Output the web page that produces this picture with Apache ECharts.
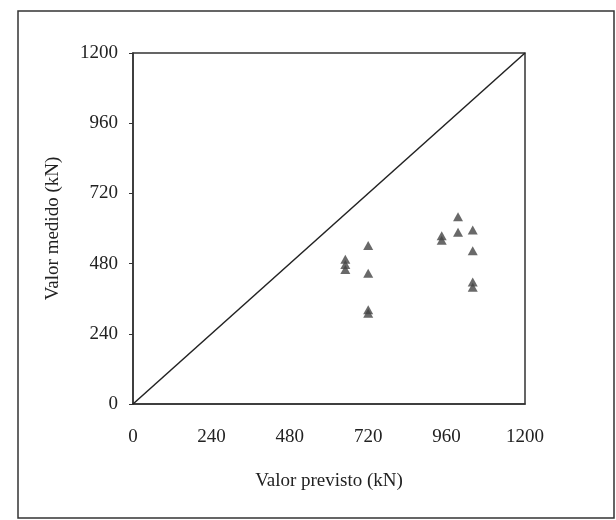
<!DOCTYPE html>
<html>
<head>
<meta charset="utf-8">
<script src="https://cdn.jsdelivr.net/npm/echarts@6/dist/echarts.min.js"></script>
<style>
  html, body { margin: 0; padding: 0; background: #fff; }
  #chart { width: 616px; height: 520px; }
</style>
</head>
<body>
<div id="chart"></div>
<script>
  // valores (kN)
  var previsto = [650, 650, 650, 720, 720, 720, 720, 945, 945, 995, 995, 1040, 1040, 1040, 1040];
  var medido   = [495, 477, 460, 542, 447, 322, 310, 575, 560, 640, 587, 595, 524, 417, 399];
  var linhaX = [0, 1200];
  var linhaY = [0, 1200];
  var ticks = [0, 240, 480, 720, 960, 1200];

  var pontos = previsto.map(function (x, i) { return [x, medido[i]]; });
  var linha = linhaX.map(function (x, i) { return [x, linhaY[i]]; });

  var font = 'Liberation Serif';
  var semVirgula = function (v) { return String(v); };
  var chart = echarts.init(document.getElementById('chart'));

  chart.setOption({
    animation: false,
    backgroundColor: '#fff',
    graphic: [{
      type: 'rect',
      shape: { x: 18, y: 11, width: 596, height: 507 },
      style: { fill: 'none', stroke: '#333', lineWidth: 1.5 },
      silent: true
    }],
    grid: {
      left: 133, right: 91, top: 53, bottom: 116,
      show: true, borderColor: '#333', borderWidth: 1.5
    },
    xAxis: {
      type: 'value',
      min: ticks[0], max: ticks[ticks.length - 1], interval: 240,
      name: 'Valor previsto (kN)',
      nameLocation: 'middle',
      nameGap: 68,
      nameTextStyle: { fontFamily: font, fontSize: 19, color: '#222' },
      axisLine: { show: true, lineStyle: { color: '#333', width: 1.5 } },
      axisTick: { show: false },
      splitLine: { show: false },
      axisLabel: { margin: 24, fontFamily: font, fontSize: 19, color: '#222', formatter: semVirgula }
    },
    yAxis: {
      type: 'value',
      min: ticks[0], max: ticks[ticks.length - 1], interval: 240,
      name: 'Valor medido (kN)',
      nameLocation: 'middle',
      nameGap: 70,
      nameTextStyle: { fontFamily: font, fontSize: 19, color: '#222' },
      axisLine: { show: true, lineStyle: { color: '#333', width: 1.5 } },
      axisTick: { show: true, length: 4, lineStyle: { color: '#333' } },
      splitLine: { show: false },
      axisLabel: { margin: 15, fontFamily: font, fontSize: 19, color: '#222', formatter: semVirgula }
    },
    series: [{
      type: 'line',
      data: linha,
      symbol: 'none',
      lineStyle: { color: '#222', width: 1.5 },
      silent: true
    }, {
      type: 'scatter',
      data: pontos,
      symbol: 'triangle',
      symbolSize: [10, 9],
      itemStyle: { color: '#444' }
    }]
  });
</script>
</body>
</html>
